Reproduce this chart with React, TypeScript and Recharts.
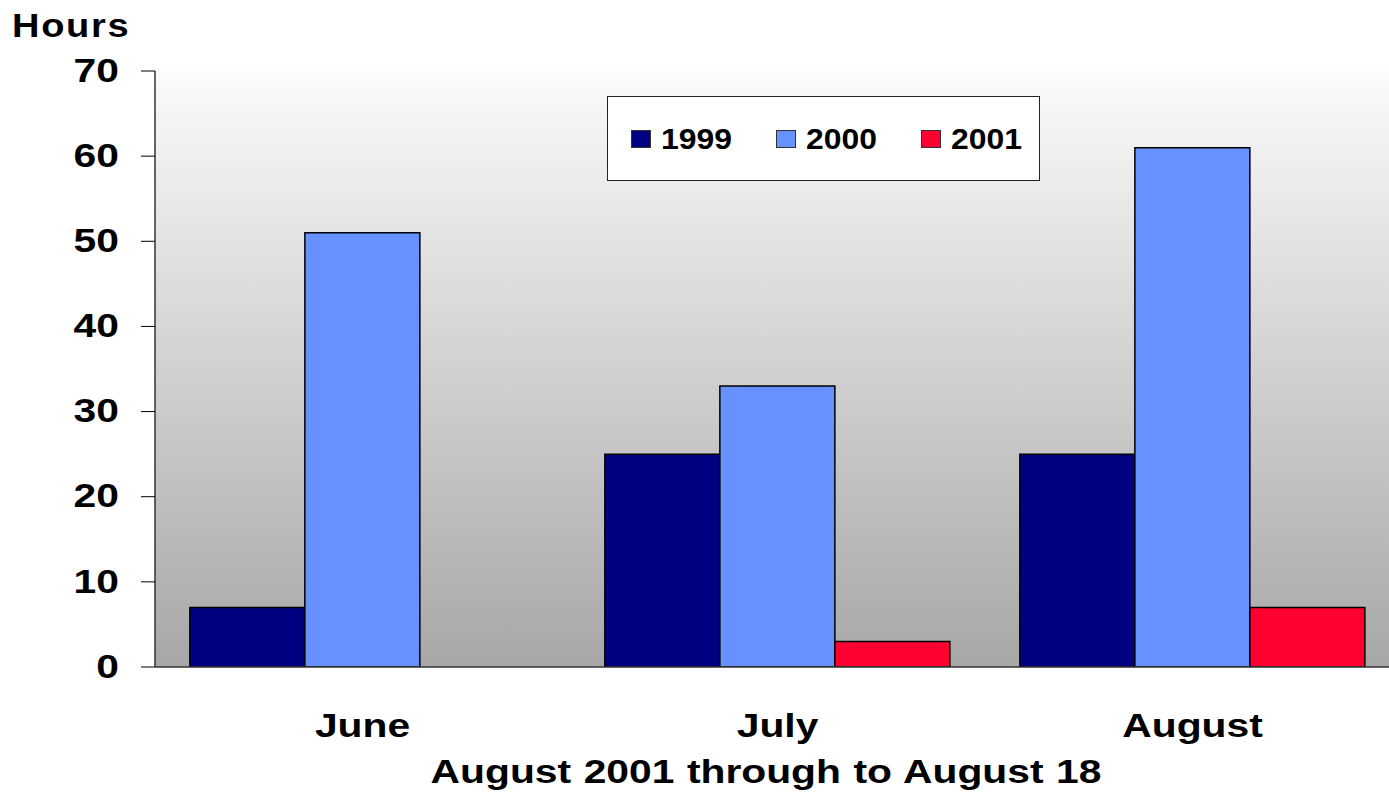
import React from 'react';
import { BarChart, Bar, XAxis, YAxis, CartesianGrid, Legend } from 'recharts';

const categories = ['June', 'July', 'August'];
const series1999 = [7, 25, 25];
const series2000 = [51, 33, 61];
const series2001: (number | null)[] = [null, 3, 7];
const seriesNames = ['1999', '2000', '2001'];
const seriesColors = ['#000080', '#6691FF', '#FF0030'];
const yTicks = [0, 10, 20, 30, 40, 50, 60, 70];
const edgeTicks = [0, 1, 2, 3];
const yAxisTitle = 'Hours';
const xAxisTitle = 'August 2001 through to August 18';

const data = categories.map((c, i) => ({
  month: c,
  y1999: series1999[i],
  y2000: series2000[i],
  y2001: series2001[i],
}));

const FONT = '"Liberation Sans", Arial, sans-serif';
const SX = 1.2;

const YTick = (props: any) => {
  const { x, y, payload } = props;
  return (
    <text
      transform={`translate(${x} ${y}) scale(${SX} 1)`}
      textAnchor="end"
      dominantBaseline="central"
      fontFamily={FONT}
      fontWeight="bold"
      fontSize={34}
      fill="#000"
      dy={-1}
    >
      {payload.value}
    </text>
  );
};

const XTick = (props: any) => {
  const { x, y, payload } = props;
  return (
    <text
      transform={`translate(${x} ${y}) scale(${SX} 1)`}
      textAnchor="middle"
      fontFamily={FONT}
      fontWeight="bold"
      fontSize={34}
      fill="#000"
      dy={47}
    >
      {payload.value}
    </text>
  );
};

const LegendBox = (props: any) => {
  const payload = props.payload || [];
  return (
    <div
      style={{
        width: 408,
        height: 83,
        border: '1.5px solid #222',
        background: '#fff',
        display: 'flex',
        alignItems: 'center',
        paddingLeft: 23,
        boxSizing: 'content-box',
      }}
    >
      {payload.map((p: any, i: number) => (
        <div key={i} style={{ width: 145, flex: 'none', display: 'flex', alignItems: 'center' }}>
          <div
            style={{
              width: 18,
              height: 16,
              background: p.color,
              border: '1px solid #333',
              marginRight: 10,
            }}
          />
          <span
            style={{
              fontFamily: FONT,
              fontWeight: 'bold',
              fontSize: 29,
              color: '#000',
              display: 'inline-block',
              transform: 'scale(1.1, 1)',
              transformOrigin: 'left center',
              lineHeight: '30px',
            }}
          >
            {p.value}
          </span>
        </div>
      ))}
    </div>
  );
};

export default function App() {
  return (
    <div
      style={{
        position: 'absolute',
        left: 0,
        top: 0,
        width: 1389,
        height: 793,
        overflow: 'hidden',
        background: '#fff',
      }}
    >
      <BarChart
        width={1420}
        height={793}
        data={data}
        margin={{ top: 71, right: 20, bottom: 0, left: 0 }}
        barCategoryGap="8.4%"
        barGap={0}
      >
        <defs>
          <linearGradient id="plotBg" x1="0" y1="0" x2="0" y2="1">
            <stop offset="0%" stopColor="#fbfbfb" />
            <stop offset="100%" stopColor="#a7a7a7" />
          </linearGradient>
        </defs>
        <CartesianGrid
          horizontal={false}
          vertical={false}
          fill="url(#plotBg)"
          stroke="none"
          xAxisId="b"
        />
        <XAxis
          xAxisId="b"
          dataKey="month"
          type="category"
          height={111}
          axisLine={false}
          tickLine={false}
          tick={<XTick />}
          interval={0}
        />
        <XAxis
          xAxisId="a"
          type="number"
          domain={[0, 3]}
          ticks={edgeTicks}
          allowDataOverflow
          height={15}
          tickSize={14}
          tick={false}
          axisLine={{ stroke: '#333', strokeWidth: 1.5 }}
          tickLine={{ stroke: '#000', strokeWidth: 1 }}
        />
        <YAxis
          domain={[0, 70]}
          ticks={yTicks}
          width={155}
          tickSize={14}
          tickMargin={22}
          tick={<YTick />}
          axisLine={{ stroke: '#333', strokeWidth: 1.5 }}
          tickLine={{ stroke: '#000', strokeWidth: 1 }}
          allowDataOverflow
        />
        <Legend
          layout="horizontal"
          verticalAlign="middle"
          align="center"
          wrapperStyle={{ left: 607, top: 96, width: 434, height: 86 }}
          content={<LegendBox />}
        />
        <Bar xAxisId="b" dataKey="y1999" name={seriesNames[0]} fill={seriesColors[0]} stroke="#000" strokeWidth={1.5} isAnimationActive={false} />
        <Bar xAxisId="b" dataKey="y2000" name={seriesNames[1]} fill={seriesColors[1]} stroke="#000" strokeWidth={1.5} isAnimationActive={false} />
        <Bar xAxisId="b" dataKey="y2001" name={seriesNames[2]} fill={seriesColors[2]} stroke="#000" strokeWidth={1.5} isAnimationActive={false} />
        <text
          transform={`translate(12 37) scale(1.12 1)`}
          fontFamily={FONT}
          fontWeight="bold"
          fontSize={34}
          fill="#000"
          letterSpacing={1.5}
        >
          {yAxisTitle}
        </text>
        <text
          transform={`translate(766 783) scale(${SX} 1)`}
          textAnchor="middle"
          fontFamily={FONT}
          fontWeight="bold"
          fontSize={34}
          fill="#000"
          wordSpacing={1}
        >
          {xAxisTitle}
        </text>
      </BarChart>
    </div>
  );
}
